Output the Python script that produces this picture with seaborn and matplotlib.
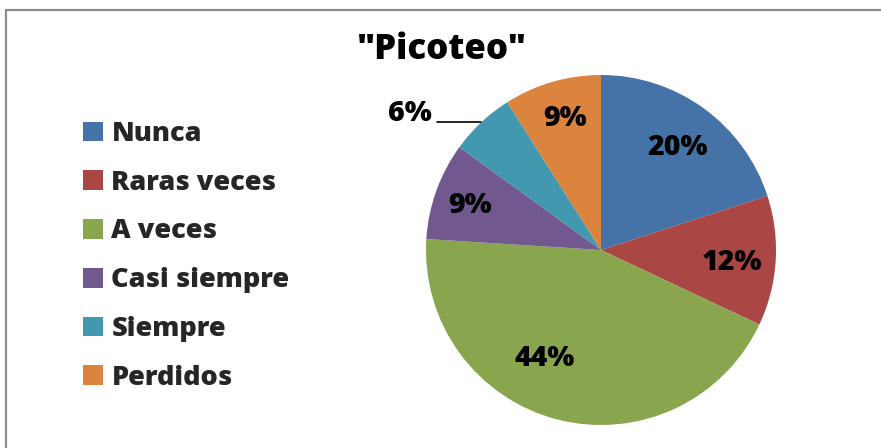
import numpy as np
import matplotlib
matplotlib.use("Agg")
import matplotlib.pyplot as plt
from matplotlib.patches import Rectangle, Patch
import seaborn as sns

categories = ["Nunca", "Raras veces", "A veces", "Casi siempre", "Siempre", "Perdidos"]
values = [20, 12, 44, 9, 6, 9]
colors = ["#4572A7", "#AA4643", "#89A54E", "#71588F", "#4198AF", "#DB843D"]
title = '"Picoteo"'

sns.set_theme(style="white")
plt.rcParams["font.family"] = ["Open Sans", "DejaVu Sans"]

W, H = 881, 448
fig = plt.figure(figsize=(W / 100, H / 100), dpi=100)
fig.patch.set_facecolor("white")

# chart frame (open to the right and bottom)
fig.add_artist(Rectangle((6 / W, -0.1), 1.2, (H - 10) / H + 0.1,
                         transform=fig.transFigure, fill=False,
                         edgecolor="#8c8c8c", linewidth=1.6))

cx, cy, R = 601, 250, 175
ax = fig.add_axes([(cx - R) / W, (H - cy - R) / H, 2 * R / W, 2 * R / H])
pal = sns.color_palette(colors)
wedges, _ = ax.pie(values, colors=pal, startangle=90, counterclock=False,
                   radius=1.0, wedgeprops=dict(linewidth=0))
ax.set_xlim(-1, 1)
ax.set_ylim(-1, 1)
ax.set_aspect("equal")
ax.axis("off")

WEIGHT = 800
# label placement: (radius fraction, angle shift in degrees)
label_place = [(0.73, -1), (0.75, -2), (0.70, -13), (0.79, 1), (None, 0), (0.78, -1)]
fs_lab = 20.5
for w, v, (rf, dth) in zip(wedges, values, label_place):
    mid = np.deg2rad((w.theta1 + w.theta2) / 2 + dth)
    txt = f"{v}%"
    if rf is None:
        # outside label with leader line
        ex, ey = np.cos(mid), np.sin(mid)
        lx = ex - 0.25
        ax.plot([ex, lx], [ey, ey], color="black", lw=1.2, clip_on=False)
        ax.text(lx - 0.03, ey + 0.05, txt, ha="right", va="center",
                fontsize=fs_lab, fontweight=WEIGHT, color="black")
    else:
        ax.text(rf * np.cos(mid), rf * np.sin(mid), txt, ha="center", va="center",
                fontsize=fs_lab, fontweight=WEIGHT, color="black")

fig.text(442 / W, 1 - 50 / H, title, ha="center", va="center",
         fontsize=25, fontweight=WEIGHT, color="black")

handles = [Patch(facecolor=c, edgecolor="none") for c in pal]
leg = fig.legend(handles, categories, loc="upper left",
                 bbox_to_anchor=(83 / W, 1 - 121 / H), frameon=False,
                 prop=dict(size=19.5, weight=WEIGHT),
                 handlelength=0.75, handleheight=0.75, handletextpad=0.3,
                 labelspacing=0.84, borderaxespad=0, borderpad=0)

fig.savefig("out.png", dpi=100, facecolor="white")
